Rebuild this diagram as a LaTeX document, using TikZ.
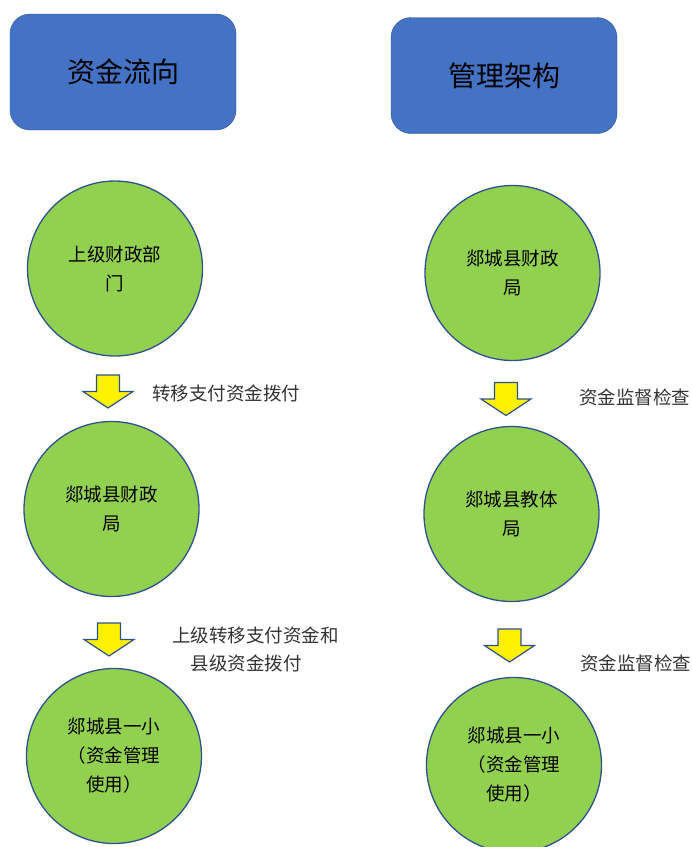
\documentclass[tikz,border=0pt]{standalone}
\usepackage{fontspec}
\setmainfont{Noto Sans CJK SC}
\usepackage{tikz}

\definecolor{boxblue}{HTML}{4472C4}
\definecolor{edgeblue}{HTML}{2F528F}
\definecolor{leafgreen}{HTML}{92D050}

\begin{document}
\begin{tikzpicture}[x=1pt, y=-1pt,
    title/.style={draw=edgeblue, fill=boxblue, rounded corners=20pt,
        minimum width=226pt, minimum height=116pt,
        font=\fontsize{28}{34}\selectfont},
    unit/.style={circle, draw=edgeblue, line width=1.3pt, fill=leafgreen,
        minimum size=175pt, inner sep=0pt, align=center,
        font=\fontsize{18.5}{29}\selectfont},
    flow/.style={draw=edgeblue, line width=1.2pt, fill=yellow},
    note/.style={anchor=west, align=left, inner sep=0pt, text=black!80,
        font=\fontsize{18.5}{28}\selectfont}]

    % Fix the size of the page
    \useasboundingbox (0,0) rectangle (692,847);

    % Draw the two title boxes
    \node[title] (money) at (123,72) {资金流向};
    \node[title] (admin) at (504,75.5) {管理架构};

    % Left column: where the money goes
    \node[unit] (prov) at (115,268.5) {上级财政部\\门};
    \node[unit] (fin) at (111.5,509) {郯城县财政\\局};
    \node[unit] (schoolL) at (114,756) {郯城县一小\\（资金管理\\使用）};

    % Right column: who checks whom
    \node[unit] (finR) at (512.5,273) {郯城县财政\\局};
    \node[unit] (edu) at (511.5,514) {郯城县教体\\局};
    \node[unit] (schoolR) at (514,765) {郯城县一小\\（资金管理\\使用）};

    % Draw the yellow arrows between the circles
    \foreach \x/\y in {108/391.5, 109/639.5, 506/399, 509.5/645.5}
    {
        \draw[flow] (\x-11.5,\y-16.5) -- (\x+11.5,\y-16.5) -- (\x+11.5,\y)
            -- (\x+25,\y) -- (\x,\y+16.5) -- (\x-25,\y) -- (\x-11.5,\y) -- cycle;
    }

    % Finally the labels next to the arrows
    \node[note] (pay1) at (152,393) {转移支付资金拨付};
    \node[note] (pay2) at (172,649) {上级转移支付资金和\\\hspace{1em}县级资金拨付};
    \node[note] (check1) at (579,397) {资金监督检查};
    \node[note] (check2) at (580,663) {资金监督检查};
\end{tikzpicture}
\end{document}
